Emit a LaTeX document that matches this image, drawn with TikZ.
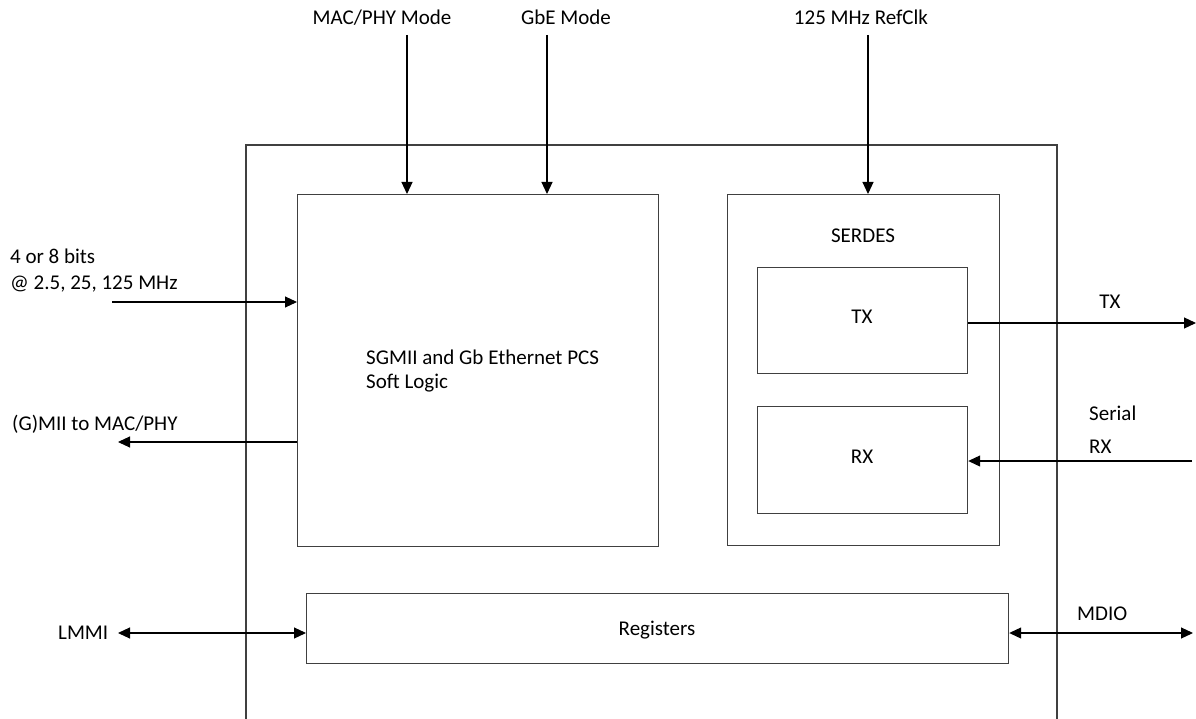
\documentclass[tikz,border=0pt]{standalone}
\usepackage{fontspec}
\setmainfont{Carlito}
\usetikzlibrary{arrows.meta}
\definecolor{boxgray}{RGB}{64,64,64}
\begin{document}
\begin{tikzpicture}[x=1pt,y=-1pt,
  box/.style={draw=boxgray, line width=1.2pt, rectangle, inner sep=0pt, anchor=north west},
  wire/.style={draw=black, line width=1.1pt},
  tip/.style={-{Triangle[length=12pt,width=11pt]}},
  bothtips/.style={{Triangle[length=12pt,width=11pt]}-{Triangle[length=12pt,width=11pt]}},
  lbl/.style={font=\fontsize{21}{25}\selectfont, inner sep=0pt, text=black}]
\useasboundingbox (0,0) rectangle (1196,719);
\fill[white] (0,0) rectangle (1196,719);

% outer block, open at the bottom edge
\coordinate (obl) at (246,730);
\coordinate (otl) at (246,145);
\coordinate (otr) at (1057,145);
\coordinate (obr) at (1057,730);
\draw[draw=boxgray, line width=1.2pt] (obl) -- (otl) -- (otr) -- (obr);

% inner blocks
\node[box, minimum width=361pt, minimum height=352pt] (pcs) at (297,194) {};
\node[box, minimum width=272pt, minimum height=351pt] (serdes) at (727,194) {};
\node[box, minimum width=210pt, minimum height=106pt] (txb) at (757,267) {};
\node[box, minimum width=210pt, minimum height=107pt] (rxb) at (757,406) {};
\node[box, minimum width=702pt, minimum height=70pt] (regs) at (306,593) {};

% block texts
\node[lbl, anchor=base west] (pcsA) at (366,364) {SGMII and Gb Ethernet PCS};
\node[lbl, anchor=base west] (pcsB) at (366,388) {Soft Logic};
\node[lbl, anchor=base] (serdesT) at (863,243) {SERDES};
\node[lbl, anchor=base] (txT) at (862,323) {TX};
\node[lbl, anchor=base] (rxT) at (862,463) {RX};
\node[lbl, anchor=base] (regsT) at (657,635) {Registers};

% top control inputs
\node[lbl, anchor=base] (macL) at (382,25) {MAC/PHY Mode};
\node[lbl, anchor=base] (gbeL) at (566,25) {GbE Mode};
\node[lbl, anchor=base] (clkL) at (861,25) {125 MHz RefClk};
\coordinate (macS) at (407,35);
\coordinate (gbeS) at (547,35);
\coordinate (clkS) at (868,35);
\draw[wire, tip] (macS) -- (macS |- pcs.north);
\draw[wire, tip] (gbeS) -- (gbeS |- pcs.north);
\draw[wire, tip] (clkS) -- (clkS |- serdes.north);

% left side signals
\node[lbl, anchor=base west] (inA) at (10,264) {4 or 8 bits};
\node[lbl, anchor=base west] (inB) at (10,290) {@ 2.5, 25, 125 MHz};
\coordinate (inS) at (112,302);
\draw[wire, tip] (inS) -- (inS -| pcs.west);
\node[lbl, anchor=base west] (outL) at (12,430) {(G)MII to MAC/PHY};
\coordinate (outE) at (118,442);
\draw[wire, tip] (outE -| pcs.west) -- (outE);
\node[lbl, anchor=west] (lmmiL) at (58,633) {LMMI};
\coordinate (lmmiE) at (118,633);
\draw[wire, bothtips] (lmmiE) -- (lmmiE -| regs.west);

% right side signals
\node[lbl, anchor=base] (txL) at (1110,308) {TX};
\coordinate (txE) at (1196,323);
\draw[wire, tip] (txE -| txb.east) -- (txE);
\node[lbl, anchor=base west] (rxA) at (1089,420) {Serial};
\node[lbl, anchor=base west] (rxB) at (1089,453) {RX};
\coordinate (rxS) at (1192,461);
\draw[wire, tip] (rxS) -- (rxS -| rxb.east);
\node[lbl, anchor=base west] (mdioL) at (1077,620) {MDIO};
\coordinate (mdioE) at (1193,633);
\draw[wire, bothtips] (mdioE -| regs.east) -- (mdioE);
\end{tikzpicture}
\end{document}
